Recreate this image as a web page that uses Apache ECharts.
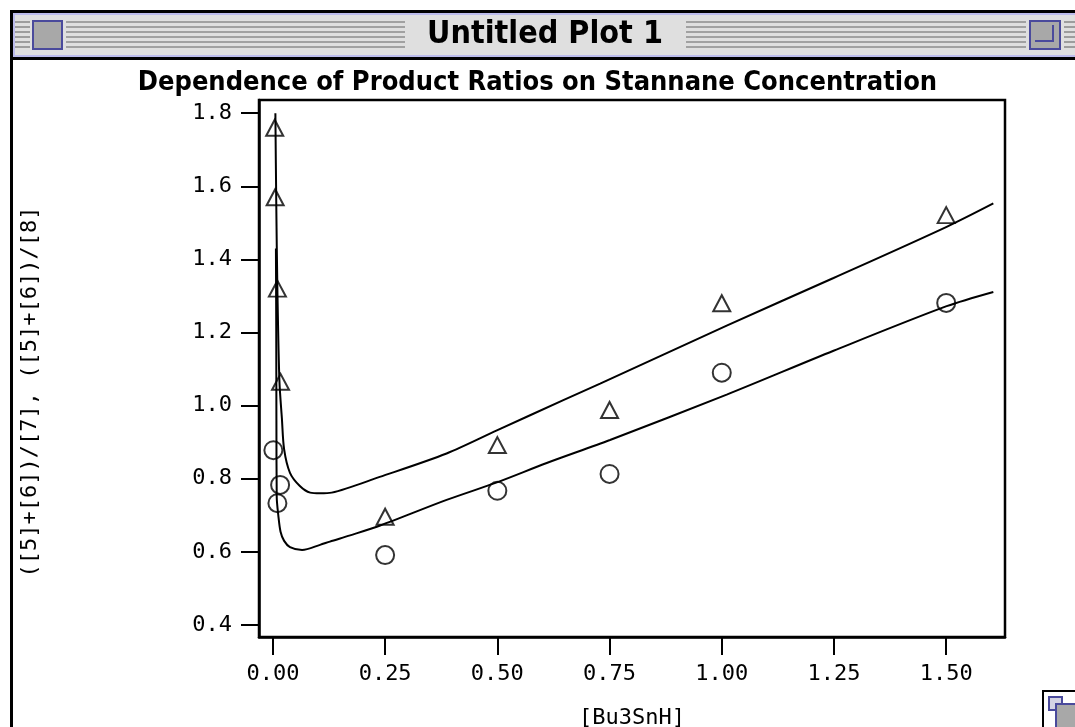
<!DOCTYPE html>
<html>
<head>
<meta charset="utf-8">
<title>Untitled Plot 1</title>
<script src="https://cdn.jsdelivr.net/npm/echarts@6/dist/echarts.min.js"></script>
<style>
    html, body { margin: 0; padding: 0; background: #fff; }
    #plot { width: 1075px; height: 727px; }
</style>
</head>
<body>
<div id="plot"></div>
<script>
"use strict";

// measured points, ([5]+[6])/[8] (triangles) and ([5]+[6])/[7] (circles)
const triX = [0.004, 0.005, 0.010, 0.017, 0.25, 0.50, 0.75, 1.00, 1.50];
const triY = [1.76, 1.57, 1.32, 1.065, 0.696, 0.892, 0.988, 1.280, 1.521];
const circX = [0.001, 0.010, 0.016, 0.25, 0.50, 0.75, 1.00, 1.50];
const circY = [0.878, 0.733, 0.783, 0.591, 0.767, 0.813, 1.090, 1.281];

// fitted curves
const upperX = [0.0055, 0.0074, 0.010, 0.0145, 0.020, 0.025, 0.038, 0.060, 0.083, 0.105, 0.131, 0.238, 0.387, 0.499, 0.647, 0.729, 1.011, 1.249, 1.501, 1.605];
const upperY = [1.80, 1.56, 1.316, 1.067, 0.965, 0.88, 0.816, 0.780, 0.762, 0.760, 0.762, 0.805, 0.869, 0.932, 1.015, 1.060, 1.219, 1.349, 1.489, 1.553];
const lowerX = [0.0067, 0.0074, 0.0078, 0.0085, 0.012, 0.017, 0.025, 0.038, 0.065, 0.105, 0.127, 0.172, 0.239, 0.387, 0.499, 0.610, 0.751, 1.011, 1.249, 1.501, 1.605];
const lowerY = [1.43, 1.21, 0.96, 0.75, 0.70, 0.655, 0.630, 0.613, 0.605, 0.619, 0.628, 0.645, 0.672, 0.742, 0.790, 0.843, 0.906, 1.030, 1.150, 1.272, 1.311];

// tick labels
const xTicks = [0, 0.25, 0.50, 0.75, 1.00, 1.25, 1.50];
const yTicks = [0.4, 0.6, 0.8, 1.0, 1.2, 1.4, 1.6, 1.8];

const pairs = (xs, ys) => xs.map((x, i) => [x, ys[i]]);

const monoFont = "'DejaVu Sans Mono', monospace";
const boldFont = "'DejaVu Sans Condensed', 'DejaVu Sans', sans-serif";

// classic window frame drawn around the plot
let chrome = [];
chrome.push({ type: 'rect', shape: { x: 13, y: 13, width: 1070, height: 45 }, style: { fill: '#dfdfdf' }, silent: true });
chrome.push({ type: 'rect', shape: { x: 14, y: 14, width: 1070, height: 42 }, style: { fill: 'none', stroke: '#bcbcec', lineWidth: 2 }, silent: true });
[22, 27, 32, 37, 42, 47].forEach(function (y) {
    [[15, 30], [66, 405], [686, 1026], [1064, 1075]].forEach(function (seg) {
        chrome.push({ type: 'line', shape: { x1: seg[0], y1: y, x2: seg[1], y2: y }, style: { stroke: '#8c8c8c', lineWidth: 1.6 }, silent: true });
    });
});
chrome.push({ type: 'rect', shape: { x: 33, y: 21, width: 29, height: 28 }, style: { fill: '#a8a8a8', stroke: '#4a4a9c', lineWidth: 2 }, silent: true });
chrome.push({ type: 'rect', shape: { x: 1030, y: 21, width: 30, height: 28 }, style: { fill: '#a8a8a8', stroke: '#4a4a9c', lineWidth: 2 }, silent: true });
chrome.push({ type: 'polyline', shape: { points: [[1035, 41], [1053, 41], [1053, 25]] }, style: { fill: 'none', stroke: '#4a4a9c', lineWidth: 2 }, silent: true });
chrome.push({ type: 'line', shape: { x1: 10, y1: 11.5, x2: 1075, y2: 11.5 }, style: { stroke: '#000', lineWidth: 3 }, silent: true });
chrome.push({ type: 'line', shape: { x1: 10, y1: 58.5, x2: 1075, y2: 58.5 }, style: { stroke: '#000', lineWidth: 3 }, silent: true });
chrome.push({ type: 'line', shape: { x1: 11.5, y1: 10, x2: 11.5, y2: 727 }, style: { stroke: '#000', lineWidth: 3 }, silent: true });
chrome.push({
    type: 'text', x: 545, y: 35, silent: true,
    style: { text: 'Untitled Plot 1', font: 'bold 32px ' + boldFont, fill: '#000', align: 'center', verticalAlign: 'middle' }
});
// resize box
chrome.push({ type: 'rect', shape: { x: 1043, y: 691, width: 40, height: 40 }, style: { fill: '#fff', stroke: '#000', lineWidth: 2 }, silent: true });
chrome.push({ type: 'rect', shape: { x: 1049, y: 697, width: 13, height: 13 }, style: { fill: '#d4d4e4', stroke: '#4a4a9c', lineWidth: 2 }, silent: true });
chrome.push({ type: 'rect', shape: { x: 1056, y: 704, width: 25, height: 25 }, style: { fill: '#a8a8a8', stroke: '#4a4a9c', lineWidth: 2 }, silent: true });
// y axis title
chrome.push({
    type: 'text', x: 30, y: 392, rotation: Math.PI / 2, silent: true,
    style: { text: '([5]+[6])/[7], ([5]+[6])/[8]', font: '22px ' + monoFont, fill: '#000', align: 'center', verticalAlign: 'middle' }
});

let myChart = echarts.init(document.getElementById('plot'));

let option = {
    animation: false,
    backgroundColor: '#fff',
    title: {
        text: 'Dependence of Product Ratios on Stannane Concentration',
        left: 'center',
        top: 64,
        textStyle: { fontFamily: boldFont, fontWeight: 'bold', fontSize: 27, color: '#000' }
    },
    grid: {
        left: 259, right: 70, top: 100, bottom: 90,
        outerBoundsMode: 'none',
        show: true, borderColor: '#000', borderWidth: 2.5, backgroundColor: '#fff'
    },
    xAxis: {
        type: 'value',
        min: -0.031,
        max: 1.631,
        name: '[Bu3SnH]',
        nameLocation: 'middle',
        nameGap: 70,
        nameTextStyle: { fontFamily: monoFont, fontSize: 22, color: '#000' },
        axisLine: { onZero: false, lineStyle: { color: '#000', width: 2.5 } },
        axisTick: { show: true, length: 18, customValues: xTicks, lineStyle: { color: '#000', width: 2 } },
        axisLabel: {
            customValues: xTicks, margin: 26, color: '#000',
            fontFamily: monoFont, fontSize: 22,
            formatter: (v) => v.toFixed(2)
        },
        splitLine: { show: false }
    },
    yAxis: {
        type: 'value',
        min: 0.367,
        max: 1.836,
        axisLine: { show: true, onZero: false, lineStyle: { color: '#000', width: 2.5 } },
        axisTick: { show: true, length: 18, customValues: yTicks, lineStyle: { color: '#000', width: 2 } },
        axisLabel: {
            customValues: yTicks, margin: 27, color: '#000',
            fontFamily: monoFont, fontSize: 22,
            formatter: (v) => v.toFixed(1)
        },
        splitLine: { show: false }
    },
    graphic: chrome,
    series: [
        {
            name: 'fit [8]', type: 'line', data: pairs(upperX, upperY),
            showSymbol: false, silent: true, clip: true,
            smooth: 0.3,
            lineStyle: { color: '#000', width: 2 }
        },
        {
            name: 'fit [7]', type: 'line', data: pairs(lowerX, lowerY),
            showSymbol: false, silent: true, clip: true,
            smooth: 0.3,
            lineStyle: { color: '#000', width: 2 }
        },
        {
            name: '([5]+[6])/[8]', type: 'scatter', data: pairs(triX, triY),
            symbol: 'triangle', symbolSize: [17, 16], silent: true,
            itemStyle: { color: 'rgba(0,0,0,0)', borderColor: '#000', borderWidth: 2 }
        },
        {
            name: '([5]+[6])/[7]', type: 'scatter', data: pairs(circX, circY),
            symbol: 'circle', symbolSize: 18, silent: true,
            itemStyle: { color: 'rgba(0,0,0,0)', borderColor: '#000', borderWidth: 2 }
        }
    ]
};

myChart.setOption(option);
</script>
</body>
</html>
